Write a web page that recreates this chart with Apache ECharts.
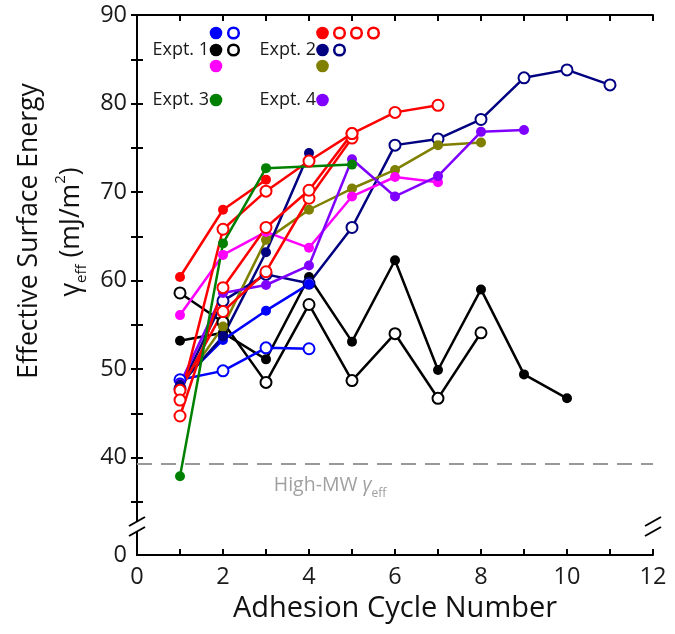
<!DOCTYPE html>
<html><head><meta charset="utf-8">
<script src="https://cdn.jsdelivr.net/npm/echarts@6/dist/echarts.min.js"></script>
<style>html,body{margin:0;padding:0;background:#fff}#c{width:675px;height:634px}</style>
</head><body><div id="c"></div>
<script>
// ---- data ----
const cycles = [1,2,3,4,5,6,7,8,9,10,11];
const greenCycles = [1,2,3,5];
const expt1BlueFilled  = [48.5, 53.3, 56.6, 59.6];
const expt1BlueOpen    = [48.8, 49.8, 52.4, 52.3];
const expt1BlackFilled = [53.2, 54.1, 51.1, 60.4, 53.1, 62.3, 49.9, 59.0, 49.4, 46.7];
const expt1BlackOpen   = [58.6, 55.3, 48.5, 57.3, 48.7, 54.0, 46.7, 54.1];
const expt1Magenta     = [56.1, 62.9, 65.5, 63.7, 69.5, 71.7, 71.1];
const expt2RedFilled   = [60.4, 68.0, 71.4];
const expt2RedOpenA    = [46.5, 65.8, 70.1, 73.5, 76.6, 79.0, 79.8];
const expt2RedOpenB    = [44.7, 59.2, 66.0, 70.2, 76.6];
const expt2RedOpenC    = [47.6, 56.5, 61.0, 69.3, 76.1];
const expt2NavyFilled  = [48.2, 53.7, 63.2, 74.4];
const expt2NavyOpen    = [47.8, 57.7, 60.7, 59.7, 66.0, 75.3, 76.0, 78.2, 82.9, 83.8, 82.1];
const expt2Olive       = [47.9, 54.8, 64.6, 68.0, 70.4, 72.5, 75.3, 75.6];
const expt3Green       = [37.9, 64.2, 72.7, 73.1];
const expt4Purple      = [48.3, 58.6, 59.5, 61.7, 73.7, 69.5, 71.8, 76.8, 77.0];
const highMwValue = 39.3;
const xTicks = [0,1,2,3,4,5,6,7,8,9,10,11,12];
const yTicks = [35,40,45,50,55,60,65,70,75,80,85,90];
const yLabels = [29,40,50,60,70,80,90];

// ---- styles ----
const C = {blue:'#0000ff', black:'#000000', magenta:'#ff00ff', red:'#ff0000', navy:'#000080', olive:'#808000', green:'#008000', purple:'#8000ff'};
const FONT = 'Open Sans';
const pairs = (vals, xs) => vals.map((v,i)=>[ (xs||cycles)[i], v ]);
function mk(name, vals, color, open, xs){
  return {
    name, type:'line', data: pairs(vals, xs), xAxisIndex:0, yAxisIndex:0,
    symbol:'circle', symbolSize: open ? 11 : 10, showSymbol:true,
    lineStyle:{color, width:2.5},
    itemStyle: open ? {color:'#fff', borderColor:color, borderWidth:2} : {color, borderWidth:0},
    emphasis:{disabled:true}, animation:false, z:2
  };
}
const series = [
  mk('e1 black open', expt1BlackOpen, C.black, true),
  mk('e1 black filled', expt1BlackFilled, C.black, false),
  mk('e2 navy open', expt2NavyOpen, C.navy, true),
  mk('e1 blue open', expt1BlueOpen, C.blue, true),
  mk('e1 blue filled', expt1BlueFilled, C.blue, false),
  mk('e2 olive', expt2Olive, C.olive, false),
  mk('e1 magenta', expt1Magenta, C.magenta, false),
  mk('e4 purple', expt4Purple, C.purple, false),
  mk('e2 navy filled', expt2NavyFilled, C.navy, false),
  mk('e2 red open C', expt2RedOpenC, C.red, true),
  mk('e2 red open B', expt2RedOpenB, C.red, true),
  mk('e2 red open A', expt2RedOpenA, C.red, true),
  mk('e2 red filled', expt2RedFilled, C.red, false),
  mk('e3 green', expt3Green, C.green, false, greenCycles)
];
series[0].markLine = {
  silent:true, symbol:['none','none'], animation:false,
  label:{show:false},
  lineStyle:{color:'#999999', type:[15,9], width:2},
  data:[{yAxis: highMwValue}]
};
series[0].markPoint = {
  silent:true, animation:false, symbol:'rect', symbolSize:1,
  itemStyle:{color:'rgba(0,0,0,0)'},
  label:{show:true, position:'inside',
    formatter:'{t|High-MW }{g|γ}{s|eff}',
    rich:{
      t:{fontFamily:FONT, fontSize:19.5, color:'#a0a0a0', lineHeight:26, verticalAlign:'bottom'},
      g:{fontFamily:FONT, fontSize:19.5, color:'#a0a0a0', fontStyle:'italic', lineHeight:26, verticalAlign:'bottom'},
      s:{fontFamily:FONT, fontSize:12, color:'#a0a0a0', lineHeight:26, verticalAlign:'bottom', padding:[0,0,-4,0]}
    }},
  data:[{coord:[4.49, 37.2]}]
};

const axisLine = {show:true, lineStyle:{color:'#000', width:2}};
const tick = {show:true, inside:true, length:6, lineStyle:{color:'#000', width:2}};

// legend graphics
function dot(cx, cy, color, open){
  return {type:'circle', shape:{cx, cy, r: open?5.3:6.3}, style: open ? {fill:'#fff', stroke:color, lineWidth:2.5} : {fill:color}, z:10};
}
function ltext(x, y, t){
  return {type:'text', x, y, style:{text:t, fontFamily:FONT, fontSize:18, fill:'#1a1a1a', align:'right', verticalAlign:'middle'}, z:10};
}
const legendGraphics = [
  ltext(209, 50, 'Expt. 1'), ltext(316, 50, 'Expt. 2'),
  ltext(209, 100, 'Expt. 3'), ltext(316, 100, 'Expt. 4'),
  dot(216, 33, C.blue, false), dot(233.5, 33, C.blue, true),
  dot(216, 50, C.black, false), dot(233.5, 50, C.black, true),
  dot(216, 66, C.magenta, false),
  dot(322.5, 33, C.red, false), dot(339.5, 33, C.red, true), dot(356.5, 33, C.red, true), dot(373.5, 33, C.red, true),
  dot(322.5, 50, C.navy, false), dot(339.5, 50, C.navy, true),
  dot(322.5, 66, C.olive, false),
  dot(216, 100, C.green, false), dot(322.5, 100, C.purple, false),
  {type:'text', x:29, y:231, rotation:Math.PI/2,
    style:{text:'Effective Surface Energy', fontFamily:FONT, fontSize:26.5, fill:'#111', align:'center', verticalAlign:'middle'}, z:10},
  {type:'text', x:71, y:232, rotation:Math.PI/2,
    style:{text:'{g|γ}{s|eff}{n| (mJ/m}{p|2}{n|)}', fontFamily:FONT, fontSize:26.5, fill:'#111', align:'center', verticalAlign:'middle',
      rich:{
        g:{fontFamily:FONT, fontSize:26.5, fill:'#111', lineHeight:36, verticalAlign:'middle'},
        n:{fontFamily:FONT, fontSize:26.5, fill:'#111', lineHeight:36, verticalAlign:'middle'},
        s:{fontFamily:FONT, fontSize:15, fill:'#111', lineHeight:36, verticalAlign:'bottom'},
        p:{fontFamily:FONT, fontSize:15, fill:'#111', lineHeight:36, verticalAlign:'top'}
      }}, z:10}
];

const chart = echarts.init(document.getElementById('c'), null, {renderer:'canvas'});
const option = {
  animation:false,
  backgroundColor:'#fff',
  grid:{left:137, right:22, top:15, bottom:79, containLabel:false},
  xAxis:[
    {type:'value', min:0, max:12, interval:1, position:'bottom',
      axisLine, axisTick:tick, splitLine:{show:false},
      axisLabel:{show:true, margin:10, fontFamily:FONT, fontSize:23.5, color:'#1a1a1a',
        formatter:v => (v%2===0 ? String(v) : '')},
      name:'Adhesion Cycle Number', nameLocation:'middle', nameGap:37,
      nameTextStyle:{fontFamily:FONT, fontSize:29, color:'#111'}},
    {type:'value', min:0, max:12, interval:1, position:'top',
      axisLine, axisTick:tick, axisLabel:{show:false}, splitLine:{show:false}}
  ],
  yAxis:[
    {type:'value', min:29, max:90, position:'left',
      axisLine, axisTick:Object.assign({}, tick, {customValues:yTicks}), splitLine:{show:false},
      axisLabel:{show:true, customValues:yLabels, margin:10, fontFamily:FONT, fontSize:23.5, color:'#1a1a1a',
        formatter:v => (v < 30 ? '0' : String(v))}},
    {type:'value', min:29, max:90, position:'right',
      axisLine, axisTick:Object.assign({}, tick, {customValues:yTicks}), axisLabel:{show:false}, splitLine:{show:false}}
  ],
  graphic: legendGraphics,
  series
};
chart.setOption(option);

// axis break marks
const pBottom = chart.convertToPixel({gridIndex:0}, [0, 29]);
const pRight = chart.convertToPixel({gridIndex:0}, [12, 29]);
const yb = pBottom[1];
const breaks = [];
[pBottom[0], pRight[0]].forEach(x => {
  breaks.push({type:'rect', shape:{x:x-3, y:yb-33, width:6, height:9}, style:{fill:'#fff'}, z:20});
  breaks.push({type:'line', shape:{x1:x-8, y1:yb-29, x2:x+8, y2:yb-38}, style:{stroke:'#000', lineWidth:2}, z:21});
  breaks.push({type:'line', shape:{x1:x-8, y1:yb-19, x2:x+8, y2:yb-28}, style:{stroke:'#000', lineWidth:2}, z:21});
});
chart.setOption({graphic: legendGraphics.concat(breaks)});
</script></body></html>
